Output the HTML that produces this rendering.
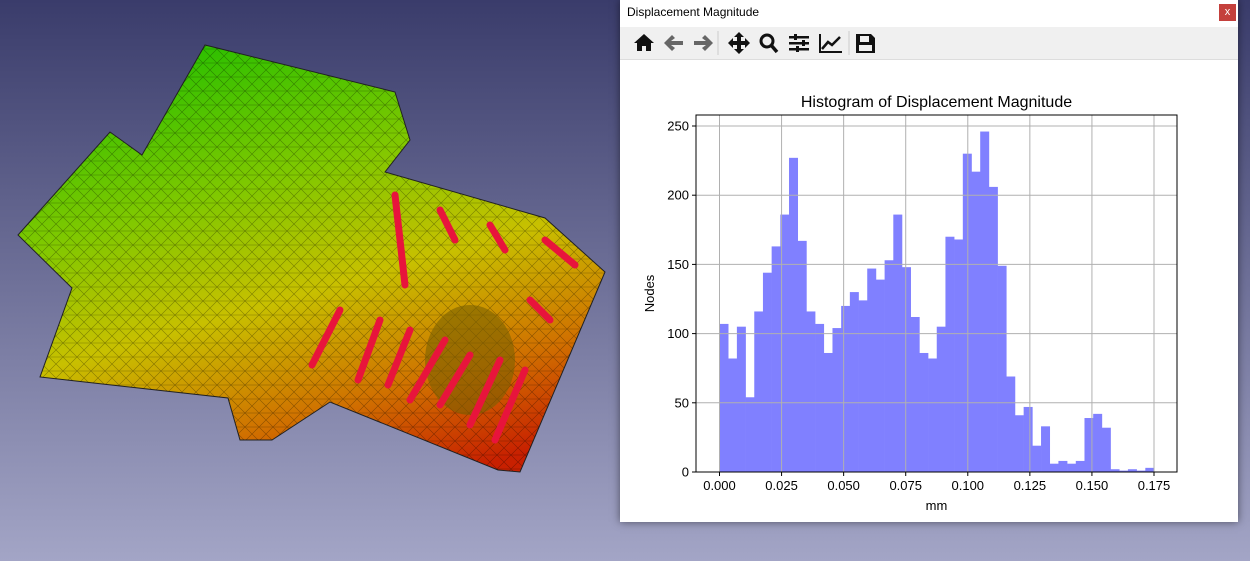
<!DOCTYPE html>
<html><head><meta charset="utf-8"><style>
html,body{margin:0;padding:0;width:1250px;height:561px;overflow:hidden;font-family:"Liberation Sans","DejaVu Sans",sans-serif}
#bg{position:absolute;left:0;top:0;width:1250px;height:561px;background:linear-gradient(#3a3c6b,#a3a5c6)}
#win{position:absolute;left:620px;top:0;width:618px;height:522px;background:#fff;box-shadow:0 0 8px rgba(0,0,0,.5)}
#title{position:absolute;left:7px;top:5px;font-size:12px;color:#000}
#close{position:absolute;left:599px;top:4px;width:17px;height:17px;background:#c4403c;color:#fff;font-size:11px;text-align:center;line-height:16px}
#tb{position:absolute;left:0;top:27px;width:618px;height:32px;background:#f0f0f0;border-bottom:1px solid #ddd}
</style></head><body>
<div id="bg">
<svg width="620" height="561">
<defs>
<linearGradient id="g" x1="0.35" y1="0" x2="0.75" y2="1">
<stop offset="0" stop-color="#30c000"/><stop offset="0.3" stop-color="#80c800"/><stop offset="0.55" stop-color="#c8c000"/><stop offset="0.8" stop-color="#d07000"/><stop offset="1" stop-color="#c82000"/></linearGradient>
<pattern id="m" width="14" height="14" patternUnits="userSpaceOnUse"><path d="M0 0L14 14M0 14L14 0M0 7H14" stroke="#000" stroke-opacity=".35" stroke-width=".6"/></pattern>
</defs>
<polygon points="18,235 110,132 142,155 205,45 395,92 410,140 385,172 545,218 605,272 520,472 498,470 330,402 272,440 240,440 228,398 40,377 72,288" fill="url(#g)" stroke="#222" stroke-width="1"/>
<polygon points="18,235 110,132 142,155 205,45 395,92 410,140 385,172 545,218 605,272 520,472 498,470 330,402 272,440 240,440 228,398 40,377 72,288" fill="url(#m)"/>
<ellipse cx="470" cy="360" rx="45" ry="55" fill="#7a6000" opacity=".6"/>
<g stroke="#e8143c" stroke-width="7" stroke-linecap="round">
<line x1="395" y1="195" x2="405" y2="285"/><line x1="440" y1="210" x2="455" y2="240"/><line x1="490" y1="225" x2="505" y2="250"/><line x1="545" y1="240" x2="575" y2="265"/>
<line x1="340" y1="310" x2="312" y2="365"/><line x1="380" y1="320" x2="358" y2="380"/><line x1="410" y1="330" x2="388" y2="385"/><line x1="445" y1="340" x2="410" y2="400"/>
<line x1="470" y1="355" x2="440" y2="405"/><line x1="500" y1="360" x2="470" y2="425"/><line x1="525" y1="370" x2="495" y2="440"/><line x1="530" y1="300" x2="550" y2="320"/>
</g></svg></div>
<div id="win">
<div id="title">Displacement Magnitude</div>
<div id="close">x</div>
<div id="tb">
<svg width="300" height="32" fill="#111" stroke="none">
<g><polygon points="14,16 24,7 34,16 31,16 31,24 26,24 26,19 22,19 22,24 17,24 17,16"/></g>
<g fill="#666"><polygon points="44,16 52,8 55,11 51,14 63,14 63,18 51,18 55,21 52,24"/></g>
<g fill="#666"><polygon points="93,16 85,8 82,11 86,14 74,14 74,18 86,18 82,21 85,24"/></g>
<g><polygon points="119,5 124,10 121,10 121,14 125,14 125,11 130,16 125,21 125,18 121,18 121,22 124,22 119,27 114,22 117,22 117,18 113,18 113,21 108,16 113,11 113,14 117,14 117,10 114,10"/></g>
<g><circle cx="147" cy="14" r="6" fill="none" stroke="#111" stroke-width="3"/><line x1="151" y1="18" x2="157" y2="25" stroke="#111" stroke-width="3.5"/></g>
<g><rect x="169" y="9" width="20" height="2.5"/><rect x="169" y="15" width="20" height="2.5"/><rect x="169" y="21" width="20" height="2.5"/><rect x="174" y="7" width="3" height="6"/><rect x="182" y="13" width="3" height="6"/><rect x="176" y="19" width="3" height="6"/></g>
<g><polyline points="200,7 200,25 222,25" fill="none" stroke="#111" stroke-width="2"/><polyline points="202,22 208,15 212,18 220,10" fill="none" stroke="#111" stroke-width="2.5"/></g>
<g><path d="M236 7h15l4 4v15h-19z M240 9v6h9v-6z M239 18v6h13v-6z" fill-rule="evenodd"/></g>
<line x1="98" y1="4" x2="98" y2="28" stroke="#ccc"/><line x1="229" y1="4" x2="229" y2="28" stroke="#ccc"/>
</svg>
</div>
<svg id="chart" width="618" height="462" style="position:absolute;left:0;top:60px"></svg>
</div>
<script>
const counts=[107,82,105,54,116,144,163,186,227,167,116,107,86,104,120,130,124,147,139,153,186,148,112,86,82,105,170,168,230,217,246,206,149,69,41,47,19,33,6,8,6,8,39,42,32,2,1,2,1,3];
const xMin=0,xMax=0.175;
const xTicks=[0,0.025,0.05,0.075,0.1,0.125,0.15,0.175];
const yTicks=[0,50,100,150,200,250];
const NS='http://www.w3.org/2000/svg';
const svg=document.getElementById('chart');
const oy=60,L=76,R=557,T=115-oy,B=472-oy;
const x0=719.5-620,x1=1154-620;
const sx=v=>x0+(v-xMin)/(xMax-xMin)*(x1-x0);
const sy=v=>B-v*(B-126+oy)/250;
function mk(t,a){const e=document.createElementNS(NS,t);for(const k in a)e.setAttribute(k,a[k]);svg.appendChild(e);return e;}
const bw=(xMax-xMin)/counts.length;
counts.forEach((c,i)=>{const r=mk('rect',{x:sx(i*bw),y:sy(c),width:sx((i+1)*bw)-sx(i*bw)+0.3,height:B-sy(c),fill:'#8080ff'});

});
xTicks.forEach(v=>{const g=mk('line',{x1:sx(v),x2:sx(v),y1:T,y2:B,stroke:'#b0b0b0','stroke-width':1});


mk('line',{x1:sx(v),x2:sx(v),y1:B,y2:B+4,stroke:'#000'});
const t=mk('text',{x:sx(v),y:B+18,'text-anchor':'middle','font-size':13,fill:'#000'});t.textContent=v.toFixed(3);

});
yTicks.forEach(v=>{const g=mk('line',{x1:L,x2:R,y1:sy(v),y2:sy(v),stroke:'#b0b0b0','stroke-width':1});


mk('line',{x1:L-4,x2:L,y1:sy(v),y2:sy(v),stroke:'#000'});
const t=mk('text',{x:L-7,y:sy(v)+4.5,'text-anchor':'end','font-size':13,fill:'#000'});t.textContent=v;

});
const fr=mk('rect',{x:L,y:T,width:R-L,height:B-T,fill:'none',stroke:'#000','stroke-width':1});


const tt=mk('text',{x:(L+R)/2,y:T-8,'text-anchor':'middle','font-size':16,fill:'#000'});tt.textContent='Histogram of Displacement Magnitude';


const xl=mk('text',{x:(L+R)/2,y:B+38,'text-anchor':'middle','font-size':13,fill:'#000'});xl.textContent='mm';


const yl=mk('text',{x:0,y:0,'text-anchor':'middle','font-size':13,fill:'#000',transform:`translate(34,${(T+B)/2}) rotate(-90)`});yl.textContent='Nodes';


</script>
</body></html>
